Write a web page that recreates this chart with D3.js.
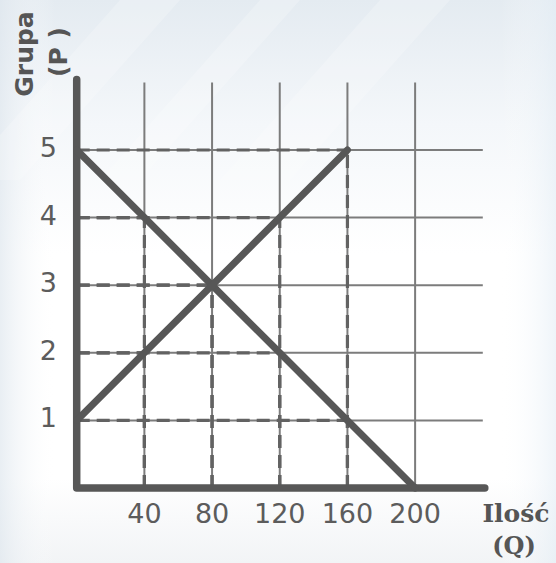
<!DOCTYPE html>
<html>
<head>
<meta charset="utf-8">
<script src="https://cdn.jsdelivr.net/npm/d3@7"></script>
<style>
  html, body { margin: 0; padding: 0; background: #ffffff; }
  svg { display: block; }
</style>
</head>
<body>
<svg id="chart" width="556" height="563"></svg>
<script>
// Quantity (Q) and price (P) ticks
const qTicks = [40, 80, 120, 160, 200];
const pTicks = [1, 2, 3, 4, 5];

// Demand schedule
const demandQ = [0, 40, 80, 120, 160, 200];
const demandP = [5, 4, 3, 2, 1, 0];

// Supply schedule
const supplyQ = [0, 40, 80, 120, 160];
const supplyP = [1, 2, 3, 4, 5];

const xLabel = ["Ilość", "(Q)"];
const yLabel = ["Grupa", "(P )"];

const W = 556, H = 563;
const svg = d3.select("#chart");

// Soft backdrop
const defs = svg.append("defs");
const bg = defs.append("linearGradient").attr("id", "bg")
  .attr("x1", 0).attr("y1", 0).attr("x2", 0).attr("y2", 1);
bg.append("stop").attr("offset", "0%").attr("stop-color", "#e4ebf1");
bg.append("stop").attr("offset", "22%").attr("stop-color", "#f4f7fa");
bg.append("stop").attr("offset", "45%").attr("stop-color", "#ffffff");
bg.append("stop").attr("offset", "85%").attr("stop-color", "#ffffff");
bg.append("stop").attr("offset", "100%").attr("stop-color", "#f2f4f6");
const side = defs.append("linearGradient").attr("id", "side")
  .attr("x1", 0).attr("y1", 0).attr("x2", 1).attr("y2", 0);
side.append("stop").attr("offset", "0%").attr("stop-color", "#dfe7ee").attr("stop-opacity", 0.7);
side.append("stop").attr("offset", "10%").attr("stop-color", "#ffffff").attr("stop-opacity", 0);
side.append("stop").attr("offset", "90%").attr("stop-color", "#ffffff").attr("stop-opacity", 0);
side.append("stop").attr("offset", "100%").attr("stop-color", "#e3edf5").attr("stop-opacity", 0.6);

svg.append("rect").attr("width", W).attr("height", H).attr("fill", "url(#bg)");
svg.append("rect").attr("width", W).attr("height", H).attr("fill", "url(#side)");

// faint diagonal sheen near the top
const sheen = svg.append("g").attr("fill", "#ffffff").attr("opacity", 0.22);
[[120, 60], [260, 40], [380, 70]].forEach(([x0, w]) => {
  sheen.append("polygon")
    .attr("points", `${x0},0 ${x0 + w},0 ${x0 + w - 160},180 ${x0 - 160},180`);
});

// Scales
const x = d3.scaleLinear().domain([0, 240]).range([76.7, 482.8]);
const y = d3.scaleLinear().domain([0, 6]).range([488, 82.4]);

const ink = "#575757";
const grid = svg.append("g");

// Solid thin gridlines
grid.selectAll("line.v").data(qTicks).join("line")
  .attr("x1", d => x(d)).attr("x2", d => x(d))
  .attr("y1", y(0)).attr("y2", y(6))
  .attr("stroke", "#7c7c7c").attr("stroke-width", 2);
grid.selectAll("line.h").data(pTicks).join("line")
  .attr("x1", x(0)).attr("x2", x(240))
  .attr("y1", d => y(d)).attr("y2", d => y(d))
  .attr("stroke", "#7c7c7c").attr("stroke-width", 2);

// Dashed guides from each schedule point to both axes
const pts = [];
demandQ.forEach((q, i) => pts.push([q, demandP[i]]));
supplyQ.forEach((q, i) => pts.push([q, supplyP[i]]));
const guides = pts.filter(([q, p]) => q > 0 && p > 0);

const dash = svg.append("g")
  .attr("stroke", "#626262").attr("stroke-width", 3.2)
  .attr("stroke-dasharray", "13,7").attr("fill", "none");
guides.forEach(([q, p]) => {
  dash.append("line").attr("x1", x(0)).attr("y1", y(p)).attr("x2", x(q)).attr("y2", y(p));
  dash.append("line").attr("x1", x(q)).attr("y1", y(0)).attr("x2", x(q)).attr("y2", y(p));
});

// Axes drawn as heavy strokes
svg.append("path")
  .attr("d", `M${x(0)},${y(6) - 3} L${x(0)},${y(0)} L${x(240) + 2},${y(0)}`)
  .attr("fill", "none").attr("stroke", ink).attr("stroke-width", 7.5)
  .attr("stroke-linecap", "round").attr("stroke-linejoin", "round");

// Supply and demand curves
const line = d3.line().x(d => x(d[0])).y(d => y(d[1]));
svg.append("path")
  .datum(demandQ.map((q, i) => [q, demandP[i]]))
  .attr("d", line).attr("fill", "none").attr("stroke", ink)
  .attr("stroke-width", 7).attr("stroke-linecap", "round");
svg.append("path")
  .datum(supplyQ.map((q, i) => [q, supplyP[i]]))
  .attr("d", line).attr("fill", "none").attr("stroke", ink)
  .attr("stroke-width", 7).attr("stroke-linecap", "round");

// Tick labels
const tickFont = "'DejaVu Sans', Verdana, sans-serif";
svg.append("g").selectAll("text").data(qTicks).join("text")
  .attr("x", d => x(d)).attr("y", 523)
  .attr("text-anchor", "middle")
  .attr("font-family", tickFont).attr("font-size", 27)
  .attr("fill", "#5c5c5c").text(d => d);
svg.append("g").selectAll("text").data(pTicks).join("text")
  .attr("x", 57).attr("y", d => y(d) + 7)
  .attr("text-anchor", "end")
  .attr("font-family", tickFont).attr("font-size", 27)
  .attr("fill", "#5c5c5c").text(d => d);

// Axis titles
svg.append("text").attr("x", 516).attr("y", 522)
  .attr("text-anchor", "middle")
  .attr("font-family", "'DejaVu Serif', Georgia, serif").attr("font-weight", "bold")
  .attr("font-size", 25).attr("fill", "#555").text(xLabel[0]);
svg.append("text").attr("x", 514).attr("y", 554)
  .attr("text-anchor", "middle")
  .attr("font-family", "'DejaVu Serif', Georgia, serif").attr("font-weight", "bold")
  .attr("font-size", 24).attr("fill", "#555").text(xLabel[1]);

svg.append("text")
  .attr("transform", "translate(33,54) rotate(-90)")
  .attr("text-anchor", "middle")
  .attr("font-family", "'DejaVu Sans', Verdana, sans-serif").attr("font-weight", "bold")
  .attr("font-size", 25).attr("fill", "#555").text(yLabel[0]);
svg.append("text")
  .attr("transform", "translate(67,52) rotate(-90)")
  .attr("text-anchor", "middle")
  .attr("font-family", "'DejaVu Sans', Verdana, sans-serif").attr("font-weight", "bold")
  .attr("font-size", 25).attr("fill", "#555").text(yLabel[1]);
</script>
</body>
</html>
